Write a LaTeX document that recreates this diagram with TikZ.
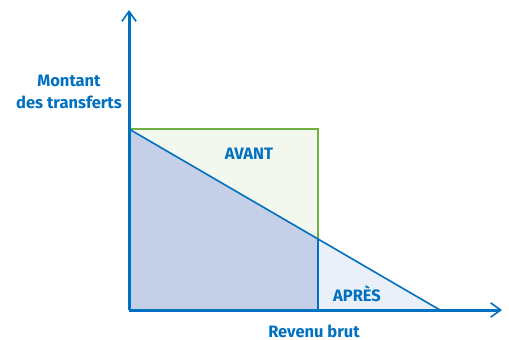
\documentclass[tikz,border=0pt]{standalone}
\usepackage{fontspec}
\setmainfont{Fira Sans}
\usepackage{xcolor}
\usetikzlibrary{arrows.meta}
\definecolor{axisblue}{RGB}{0,112,192}
\definecolor{darkfill}{RGB}{197,208,232}
\definecolor{lightfill}{RGB}{234,240,249}
\definecolor{avantgreen}{RGB}{112,176,64}
\definecolor{greenfill}{RGB}{243,248,239}

\begin{document}
\begin{tikzpicture}[x=1pt, y=-1pt, >={Straight Barb[length=3.5mm, width=5mm, line width=1.6pt]}, every node/.style={font=\bfseries\fontsize{16.5}{20}\selectfont, text=axisblue}]
  \useasboundingbox (0,0) rectangle (509,340);
  \coordinate (origin) at (129,310);
  \coordinate (ytop) at (129,10);
  \coordinate (xend) at (502,310);
  \coordinate (start) at (129,129);
  \coordinate (cut) at (318,238);
  \coordinate (foot) at (318,310);
  \coordinate (zero) at (440,310);
  \coordinate (corner) at (318,129);
  % surfaces
  \fill[greenfill] (start) -- (corner) -- (cut) -- cycle;
  \fill[darkfill] (start) -- (cut) -- (foot) -- (origin) -- cycle;
  \fill[lightfill] (cut) -- (zero) -- (foot) -- cycle;
  \draw[avantgreen, line width=1.6pt] (start) -- (corner) -- (cut);
  \draw[axisblue, line width=1.2pt] (cut) -- (foot);
  \draw[axisblue, line width=1.6pt] (start) -- (zero);
  % axes
  \draw[->, axisblue, line width=3pt] (origin) -- (ytop);
  \draw[->, axisblue, line width=3pt] (origin) -- (xend);
  % labels
  \node (avant) at (249,154) {AVANT};
  \node (apres) at (357,294) {APRÈS};
  \node (revenu) at (314,331) {Revenu brut};
  \node[align=center, font=\bfseries\fontsize{16.5}{22}\selectfont] (montant) at (69,92) {Montant\\des transferts};
\end{tikzpicture}
\end{document}
